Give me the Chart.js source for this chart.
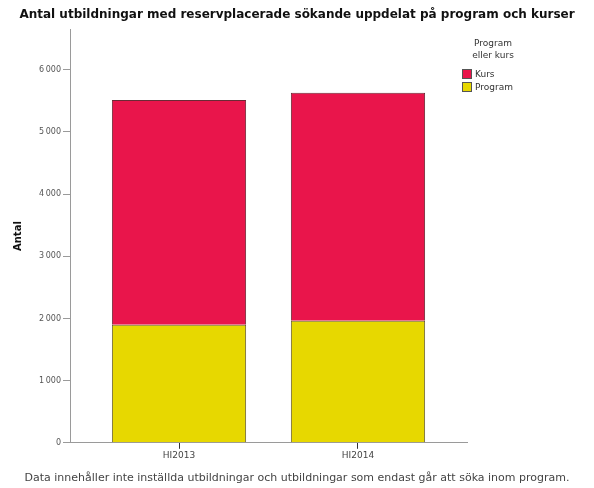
<!DOCTYPE html>
<html>
<head>
<meta charset="utf-8">
<script src="https://cdn.jsdelivr.net/npm/chart.js@4.4.1/dist/chart.umd.min.js"></script>
<style>
  html, body { margin: 0; padding: 0; background: #fff; }
  #wrap { position: relative; width: 594px; height: 488px; }
  #legend { position: absolute; left: 462px; top: 37px; font-family: "DejaVu Sans", sans-serif; font-size: 9px; color: #333; }
  #legend .ttl { text-align: center; width: 62px; line-height: 12px; margin-bottom: 6px; }
  #legend .row { display: flex; align-items: center; height: 13px; }
  #legend .sw { width: 10px; height: 10px; border: 1px solid #555; box-sizing: border-box; margin-right: 3px; }
</style>
</head>
<body>
<div id="wrap">
  <canvas id="myChart" width="594" height="488"></canvas>
  <div id="legend"></div>
</div>
<script>
// data
var categories = ['HI2013', 'HI2014'];
var kurs = [3615, 3665];
var program = [1900, 1965];
var yTicks = [0, 1000, 2000, 3000, 4000, 5000, 6000];

var red = '#E9154B';
var yellow = '#E7D800';

function points(values) {
    return values.map(function(v, i) { return {x: i, y: v}; });
}

var chartData = {
    datasets: [{
        label: 'Program',
        data: points(program),
        backgroundColor: yellow,
        borderColor: '#6b6232',
        borderWidth: 1,
        barPercentage: 0.75,
        categoryPercentage: 1
    }, {
        label: 'Kurs',
        data: points(kurs),
        backgroundColor: red,
        borderColor: '#6b2a35',
        borderWidth: 1,
        barPercentage: 0.75,
        categoryPercentage: 1
    }]
};

var axisGray = '#9a9a9a';

var ctx = document.getElementById('myChart').getContext('2d');
var newChart = new Chart(ctx, {
    type: 'bar',
    data: chartData,
    options: {
        responsive: false,
        animation: false,
        layout: { padding: 0 },
        plugins: {
            legend: { display: false },
            tooltip: { enabled: false },
            title: {
                display: true,
                text: 'Antal utbildningar med reservplacerade sökande uppdelat på program och kurser',
                color: '#111',
                font: { family: 'DejaVu Sans', size: 12, weight: 'bold' },
                padding: { top: 8, bottom: 7 }
            },
            subtitle: {
                display: true,
                position: 'bottom',
                text: 'Data innehåller inte inställda utbildningar och utbildningar som endast går att söka inom program.',
                color: '#444',
                font: { family: 'DejaVu Sans', size: 11 },
                padding: { top: 2, bottom: 3 }
            }
        },
        scales: {
            x: {
                type: 'linear',
                stacked: true,
                offset: false,
                min: -0.609,
                max: 1.609,
                afterBuildTicks: function(axis) {
                    axis.ticks = categories.map(function(c, i) { return {value: i}; });
                },
                afterFit: function(axis) { axis.height = 27; },
                ticks: {
                    color: '#444',
                    font: { family: 'DejaVu Sans', size: 9 },
                    padding: 1,
                    maxRotation: 0,
                    callback: function(v) { return categories[v]; }
                },
                grid: { offset: false, drawOnChartArea: false, drawTicks: true, tickLength: 6, color: '#333' },
                border: { color: axisGray, width: 1 }
            },
            y: {
                stacked: true,
                min: 0,
                max: 6650,
                afterBuildTicks: function(axis) {
                    axis.ticks = yTicks.map(function(v) { return {value: v}; });
                },
                afterFit: function(axis) { axis.width = 70; },
                ticks: {
                    color: '#555',
                    font: { family: 'DejaVu Sans', size: 8 },
                    padding: 2,
                    callback: function(v) {
                        return String(v).replace(/\B(?=(\d{3})+(?!\d))/g, '\u2009');
                    }
                },
                title: {
                    display: true,
                    text: 'Antal',
                    color: '#111',
                    font: { family: 'DejaVu Sans', size: 10, weight: 'bold' },
                    padding: { top: 12, bottom: 0 }
                },
                grid: { drawOnChartArea: false, drawTicks: true, tickLength: 7, color: axisGray },
                border: { color: axisGray, width: 1 }
            },
            // empty right-hand scale that only keeps room for the legend
            side: {
                position: 'right',
                display: true,
                afterFit: function(axis) { axis.width = 127; },
                ticks: { display: false },
                grid: { display: false },
                border: { display: false }
            }
        }
    }
});

// legend built from the chart's datasets (Kurs on top, as in the stack)
var legendHtml = '<div class="ttl">Program<br>eller kurs</div>';
chartData.datasets.slice().reverse().forEach(function(ds) {
    legendHtml += '<div class="row"><span class="sw" style="background:' + ds.backgroundColor + '"></span>' + ds.label + '</div>';
});
document.getElementById('legend').innerHTML = legendHtml;
</script>
</body>
</html>
